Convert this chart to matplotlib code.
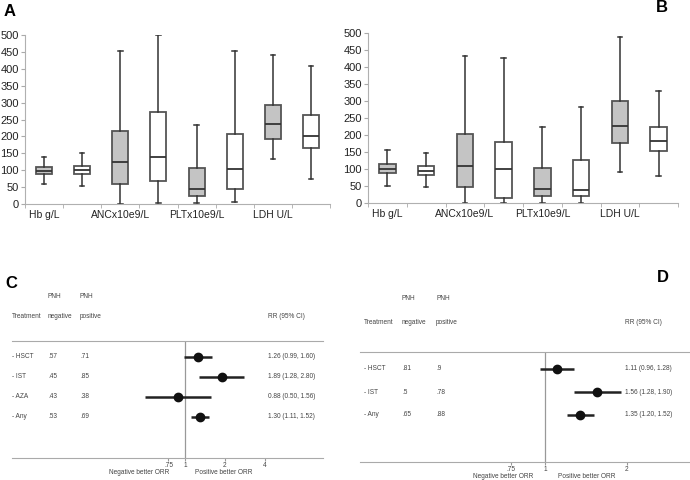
import numpy as np
import matplotlib.pyplot as plt
from matplotlib.transforms import blended_transform_factory

plt.rcParams['font.family'] = ['Liberation Sans', 'DejaVu Sans']

W, H = 690, 480

# ---- box plot data (panels A, B): one entry per box, left to right ----
categories = ['Hb g/L', 'ANCx10e9/L', 'PLTx10e9/L', 'LDH U/L']
group_fill = ['#c4c4c4', 'white'] * 4   # gray = PNH negative, white = PNH positive

a_low = [60, 52, 0, 2, 2, 5, 133, 73]
a_q1 = [90, 88, 58, 68, 23, 45, 193, 165]
a_med = [97, 100, 123, 138, 45, 105, 238, 200]
a_q3 = [110, 113, 215, 272, 107, 207, 292, 262]
a_high = [140, 150, 452, 500, 233, 452, 440, 407]

b_low = [50, 47, 0, 0, 0, 0, 92, 78]
b_q1 = [88, 83, 48, 15, 20, 20, 177, 153]
b_med = [100, 95, 108, 100, 40, 38, 227, 182]
b_q3 = [115, 108, 202, 180, 102, 127, 300, 223]
b_high = [155, 147, 432, 427, 223, 283, 488, 330]

# ---- forest plot data (panels C, D) ----
c_treat = ['- HSCT', '- IST', '- AZA', '- Any']
c_neg = ['.57', '.45', '.43', '.53']
c_pos = ['.71', '.85', '.38', '.69']
c_rr = [1.26, 1.89, 0.88, 1.30]
c_lo = [0.99, 1.28, 0.50, 1.11]
c_hi = [1.60, 2.80, 1.56, 1.52]

d_treat = ['- HSCT', '- IST', '- Any']
d_neg = ['.81', '.5', '.65']
d_pos = ['.9', '.78', '.88']
d_rr = [1.11, 1.56, 1.35]
d_lo = [0.96, 1.28, 1.20]
d_hi = [1.28, 1.90, 1.52]

fig = plt.figure(figsize=(W / 100, H / 100), dpi=100)


def px_axes(x0, y0, x1, y1):
    # rectangle in pixel coords (top-left origin) -> figure axes
    return fig.add_axes([x0 / W, 1 - y1 / H, (x1 - x0) / W, (y1 - y0) / H])


def box_panel(ax, low, q1, med, q3, high):
    stats = []
    for i in range(len(med)):
        stats.append(dict(whislo=low[i], q1=q1[i], med=med[i], q3=q3[i], whishi=high[i]))
    pos = np.arange(len(med)) + 0.5
    bp = ax.bxp(stats, positions=pos, widths=0.42, showfliers=False, patch_artist=True,
                capwidths=0.12,
                boxprops=dict(edgecolor='#555555', linewidth=1.3),
                medianprops=dict(color='#333333', linewidth=1.3),
                whiskerprops=dict(color='#333333', linewidth=1.1),
                capprops=dict(color='#333333', linewidth=1.1))
    for patch, fc in zip(bp['boxes'], group_fill):
        patch.set_facecolor(fc)
    ax.set_xlim(0, len(med))
    ax.set_ylim(0, 500)
    ax.set_yticks(np.arange(0, 501, 50))
    ax.set_xticks(np.arange(0, len(med) + 1), minor=True)
    ax.set_xticks(np.arange(0, len(med), 2) + 0.5)
    ax.set_xticklabels(categories)
    ax.tick_params(axis='x', which='major', length=0, labelsize=7.5, pad=4, labelcolor='#222222')
    ax.tick_params(axis='x', which='minor', length=3, color='#aaaaaa')
    ax.tick_params(axis='y', length=3, color='#aaaaaa', labelsize=8, pad=1.5, labelcolor='#222222')
    for s in ['top', 'right']:
        ax.spines[s].set_visible(False)
    for s in ['left', 'bottom']:
        ax.spines[s].set_color('#b0b0b0')
        ax.spines[s].set_linewidth(0.8)


axA = px_axes(25, 35, 330, 204)
box_panel(axA, a_low, a_q1, a_med, a_q3, a_high)
axB = px_axes(368, 33, 678, 203)
box_panel(axB, b_low, b_q1, b_med, b_q3, b_high)

fig.text(4 / W, 1 - 11 / H, 'A', fontsize=12, fontweight='bold', va='center', ha='left')
fig.text(656 / W, 1 - 8 / H, 'B', fontsize=12, fontweight='bold', va='center', ha='left')


def forest_panel(box, xlim, treat, neg, pos, rr, lo, hi, cols, hdr_y, ticks, lab_y, neg_x, pos_x):
    x0, y0, x1, y1, row0, step = box
    ax = px_axes(x0, y0, x1, y1)
    n = len(rr)
    ax.set_xscale('log')
    ax.set_xlim(*xlim)
    top = -(row0 - y0) / step
    bot = (y1 - row0) / step
    ax.set_ylim(bot, top)
    rows = np.arange(n)
    ax.axvline(1, color='#999999', lw=0.9)
    ax.hlines(rows, lo, hi, color='#222222', lw=1.8)
    ax.plot(rr, rows, 'o', color='#111111', ms=6)
    ax.set_yticks([])
    ax.set_xticks(ticks)
    ax.set_xticklabels(['.75', '1', '2', '4'][:len(ticks)])
    ax.xaxis.set_minor_locator(plt.NullLocator())
    ax.tick_params(axis='x', length=2.5, color='#999999', labelsize=4.7, pad=0.5,
                   labelcolor='#444444')
    for s in ['left', 'right']:
        ax.spines[s].set_visible(False)
    for s in ['top', 'bottom']:
        ax.spines[s].set_color('#aaaaaa')
        ax.spines[s].set_linewidth(0.8)
    tr = blended_transform_factory(fig.transFigure, ax.transData)
    txt = dict(fontsize=4.7, color='#444444', va='center', transform=tr)
    for i in range(n):
        ax.text(cols[0] / W, i, treat[i], **txt)
        ax.text(cols[1] / W, i, neg[i], **txt)
        ax.text(cols[2] / W, i, pos[i], **txt)
        ax.text(cols[3] / W, i, '%.2f (%.2f, %.2f)' % (rr[i], lo[i], hi[i]), **txt)
    hd = dict(fontsize=4.7, color='#444444', va='center')
    fig.text(cols[1] / W, 1 - hdr_y[0] / H, 'PNH', **hd)
    fig.text(cols[2] / W, 1 - hdr_y[0] / H, 'PNH', **hd)
    fig.text(cols[0] / W, 1 - hdr_y[1] / H, 'Treatment', **hd)
    fig.text(cols[1] / W, 1 - hdr_y[1] / H, 'negative', **hd)
    fig.text(cols[2] / W, 1 - hdr_y[1] / H, 'positive', **hd)
    fig.text(cols[3] / W, 1 - hdr_y[1] / H, 'RR (95% CI)', **hd)
    fig.text(neg_x / W, 1 - lab_y / H, 'Negative better ORR', ha='center', **hd)
    fig.text(pos_x / W, 1 - lab_y / H, 'Positive better ORR', ha='center', **hd)
    return ax


forest_panel((12, 341, 323, 458, 357, 20), (0.0493, 11.02), c_treat, c_neg, c_pos,
             c_rr, c_lo, c_hi, (12, 48, 80, 268), (297, 317), [0.75, 1, 2, 4],
             473, 139, 224)
forest_panel((360, 352, 690, 462, 369, 23), (0.2085, 3.417), d_treat, d_neg, d_pos,
             d_rr, d_lo, d_hi, (364, 402, 436, 625), (299, 323), [0.75, 1, 2],
             476.5, 503, 587)

fig.text(5 / W, 1 - 284 / H, 'C', fontsize=12, fontweight='bold', va='center', ha='left')
fig.text(657 / W, 1 - 277 / H, 'D', fontsize=12, fontweight='bold', va='center', ha='left')

fig.savefig('out.png', dpi=100)
